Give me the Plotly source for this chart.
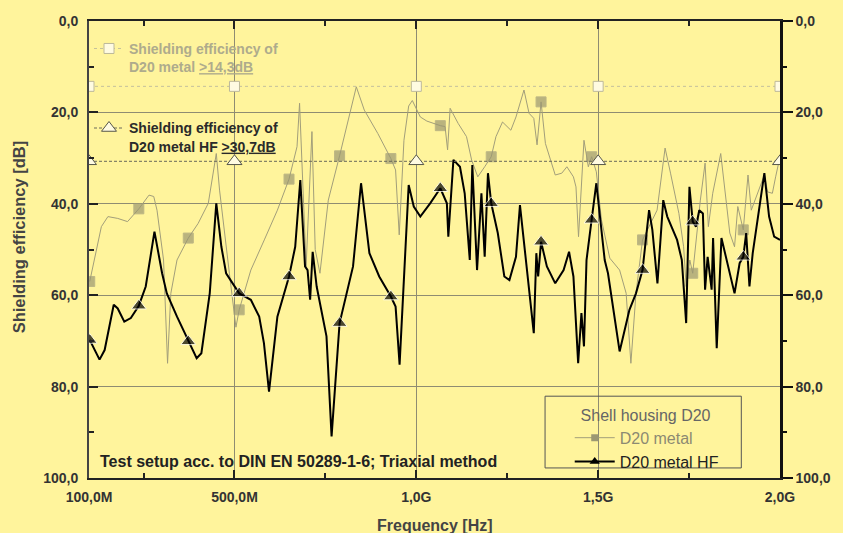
import plotly.graph_objects as go

# frequency in MHz, shielding efficiency in dB
freq_metal = [102, 115, 134, 152, 179, 206, 237, 265, 278, 287, 305, 316, 325, 342, 373, 400, 428, 450,
              459, 486, 504, 513, 545, 582, 618, 650, 672, 679, 688, 697, 713, 722, 735, 758, 789, 808,
              835, 857, 894, 930, 943, 953, 966, 979, 989, 1011, 1029, 1066, 1079, 1086, 1093, 1115,
              1138, 1152, 1169, 1188, 1206, 1219, 1237, 1260, 1274, 1296, 1310, 1323, 1332, 1343, 1355,
              1369, 1382, 1400, 1414, 1432, 1439, 1446, 1461, 1473, 1482, 1495, 1509, 1532, 1559, 1577,
              1590, 1604, 1622, 1662, 1684, 1699, 1722, 1735, 1742, 1752, 1760, 1781, 1794, 1803, 1815,
              1837, 1862, 1875, 1884, 1899, 1912, 1921, 1957, 1966, 1979, 1988, 2000]
se_metal = [57.0, 52.3, 45.0, 42.8, 43.2, 43.9, 41.1, 38.1, 38.4, 41.4, 52.3, 74.9, 59.6, 52.3, 47.5, 44.3,
            39.9, 29.0, 37.0, 55.2, 67.0, 63.2, 54.5, 47.9, 41.4, 34.6, 27.5, 18.0, 34.1, 53.7, 24.2, 50.0,
            55.2, 39.2, 29.5, 23.1, 14.4, 19.5, 24.6, 30.1, 32.6, 46.8, 26.1, 18.6, 17.4, 21.0, 21.9, 22.9,
            23.1, 28.2, 19.1, 22.4, 25.3, 30.4, 34.1, 31.9, 29.7, 25.3, 22.1, 23.9, 21.0, 15.1, 20.2, 21.3,
            27.1, 17.7, 26.8, 30.4, 33.7, 33.3, 31.9, 34.1, 36.3, 47.2, 26.1, 31.9, 29.7, 33.0, 43.5, 51.9,
            54.5, 59.6, 74.9, 59.6, 47.9, 41.4, 27.8, 33.3, 42.1, 49.4, 58.1, 52.3, 55.2, 39.2, 31.1, 45.0,
            37.7, 29.0, 46.4, 49.4, 40.6, 45.7, 33.7, 41.4, 33.7, 37.4, 37.7, 34.1, 29.7]

freq_hf = [102, 129, 143, 168, 179, 197, 215, 237, 256, 280, 301, 314, 342, 373, 396, 409, 432, 450, 464,
           477, 513, 545, 568, 581, 595, 618, 650, 667, 681, 694, 701, 708, 715, 726, 753, 767, 789, 826,
           848, 871, 898, 930, 943, 954, 966, 979, 993, 1011, 1038, 1066, 1084, 1088, 1102, 1120, 1133,
           1147, 1154, 1167, 1179, 1188, 1197, 1206, 1224, 1242, 1256, 1274, 1285, 1301, 1323, 1330, 1335,
           1343, 1359, 1382, 1405, 1420, 1432, 1445, 1454, 1461, 1468, 1482, 1495, 1518, 1527, 1559, 1586,
           1604, 1622, 1640, 1649, 1663, 1679, 1690, 1717, 1730, 1742, 1751, 1760, 1769, 1778, 1788, 1794,
           1801, 1812, 1816, 1826, 1839, 1853, 1875, 1889, 1899, 1907, 1916, 1925, 1957, 1970, 1984, 2000]
se_hf = [69.8, 74.1, 72.0, 62.1, 62.9, 65.8, 65.0, 62.3, 58.1, 46.1, 55.2, 59.6, 64.7, 70.1, 73.8, 72.7,
         59.6, 39.9, 49.4, 55.2, 59.6, 61.0, 64.7, 70.5, 81.1, 64.7, 55.9, 49.4, 34.8, 53.7, 54.5, 61.0,
         50.5, 58.1, 69.0, 90.9, 66.1, 53.7, 35.5, 50.8, 55.9, 60.3, 62.5, 75.2, 55.9, 35.9, 40.6, 42.8,
         39.9, 36.6, 39.9, 47.2, 30.4, 31.9, 37.7, 52.3, 31.5, 54.5, 37.7, 51.6, 33.3, 39.9, 46.4, 55.9,
         56.7, 51.6, 40.3, 52.3, 68.3, 50.8, 55.9, 48.3, 53.7, 57.4, 54.5, 50.5, 55.9, 74.9, 63.9, 71.2,
         52.3, 43.5, 35.5, 52.3, 55.2, 72.3, 63.2, 59.6, 54.5, 41.4, 45.7, 57.4, 39.2, 42.8, 47.9, 52.3,
         66.1, 36.3, 43.9, 45.0, 41.4, 42.1, 58.8, 51.6, 58.8, 47.5, 71.6, 47.5, 52.3, 59.6, 53.0, 51.6,
         46.4, 58.1, 50.8, 33.3, 42.8, 47.2, 47.9]

# points that carry a symbol
marker_freqs = [102, 237, 373, 513, 650, 789, 930, 1066, 1206, 1343, 1482, 1622, 1760, 1899]

# limit lines
ref_freqs = [100, 500, 1000, 1500, 2000]
ref_metal = 14.3
ref_hf = 30.7

x_tickvals = [100, 500, 1000, 1500, 2000]
x_ticktext = ['100,0M', '500,0M', '1,0G', '1,5G', '2,0G']
x_minor = [250, 750, 1250, 1750]
y_tickvals = [0, 20, 40, 60, 80, 100]
y_ticktext = ['0,0', '20,0', '40,0', '60,0', '80,0', '100,0']
y_minor = [10, 30, 50, 70, 90]

bg = '#fff49c'
grey_line = '#a29e7a'
grey_mark = '#9c9872'
font = 'Liberation Sans'

fig = go.Figure()

# limit lines
fig.add_trace(go.Scatter(
    x=ref_freqs, y=[ref_metal]*len(ref_freqs), mode='lines+markers',
    line=dict(color='#c4c09c', width=1, dash='3px,3px'),
    marker=dict(symbol='square', size=10, color='#fffbe2', line=dict(color='#bdb99a', width=1)),
    name='Shielding efficiency of<br>D20 metal <u>>14,3dB</u>', legend='legend2'))
fig.add_trace(go.Scatter(
    x=ref_freqs, y=[ref_hf]*len(ref_freqs), mode='lines+markers', yaxis='y2',
    line=dict(color='#6a6a5a', width=1, dash='3px,2px'),
    marker=dict(symbol='triangle-up', size=13, color='#fffbe2', line=dict(color='#555548', width=1)),
    name='Shielding efficiency of<br>D20 metal HF <u>>30,7dB</u>', legend='legend3'))

# measured curves
fig.add_trace(go.Scatter(
    x=freq_metal, y=se_metal, mode='lines+markers', showlegend=False,
    line=dict(color=grey_line, width=1),
    marker=dict(symbol='square', color=grey_mark,
                size=[10 if f in marker_freqs else 0 for f in freq_metal])))
fig.add_trace(go.Scatter(
    x=freq_hf, y=se_hf, mode='lines+markers', showlegend=False,
    line=dict(color='black', width=2),
    marker=dict(symbol='triangle-up', color='black',
                size=[13 if f in marker_freqs else 0 for f in freq_hf])))

# legend entries
fig.add_trace(go.Scatter(
    x=[None], y=[None], mode='lines+markers', name="<span style='color:#8c8a72'>D20 metal</span>",
    line=dict(color=grey_line, width=1), marker=dict(symbol='square', size=7, color=grey_mark)))
fig.add_trace(go.Scatter(
    x=[None], y=[None], mode='lines+markers', name='D20 metal HF',
    line=dict(color='black', width=2), marker=dict(symbol='triangle-up', size=9, color='black')))

tickfont = dict(family=font, size=14, color='#333', weight='bold')

fig.update_layout(
    width=843, height=533,
    margin=dict(l=89, r=54, t=21, b=55),
    paper_bgcolor=bg, plot_bgcolor=bg,
    font=dict(family=font, size=13, color='#333'),
    xaxis=dict(
        range=[100, 2000], tickmode='array', tickvals=x_tickvals, ticktext=x_ticktext,
        ticks='inside', ticklen=8, tickwidth=1.5, tickcolor='#222', tickfont=tickfont,
        ticklabelstandoff=5,
        showline=True, linecolor='#222', linewidth=2, mirror='ticks',
        showgrid=True, gridcolor='#8f8c72', gridwidth=1, zeroline=False,
        minor=dict(tickmode='array', tickvals=x_minor, ticks='inside', ticklen=5,
                   tickcolor='#222', showgrid=False),
    ),
    yaxis=dict(
        range=[100, 0], tickmode='array', tickvals=y_tickvals, ticktext=y_ticktext,
        ticks='inside', ticklen=9, tickwidth=1.5, tickcolor='#222', tickfont=tickfont,
        ticklabelstandoff=6,
        showline=True, linecolor='#444', linewidth=2,
        showgrid=True, gridcolor='#8f8c72', gridwidth=1, zeroline=False,
        minor=dict(tickmode='array', tickvals=y_minor, ticks='inside', ticklen=5,
                   tickcolor='#222', showgrid=False),
    ),
    yaxis2=dict(
        overlaying='y', side='right', matches='y', range=[100, 0],
        tickmode='array', tickvals=y_tickvals, ticktext=y_ticktext,
        ticks='outside', ticklen=10, tickwidth=1.5, tickcolor='#111', tickfont=tickfont,
        showline=True, linecolor='#111', linewidth=2.5, showgrid=False, zeroline=False,
        minor=dict(tickmode='array', tickvals=y_minor, ticks='outside', ticklen=4, tickcolor='#111'),
    ),
    legend=dict(
        x=0.6957, y=0.1707, xanchor='left', yanchor='top', itemwidth=40,
        bgcolor='rgba(0,0,0,0)', borderwidth=0,
        font=dict(family=font, size=16, color='#222'),
        title=dict(text='\u00a0\u00a0Shell housing D20', font=dict(family=font, size=16, color='#666')),
        tracegroupgap=0,
    ),
    legend2=dict(
        x=0.0, y=0.974, xanchor='left', yanchor='top', bgcolor='rgba(0,0,0,0)', valign='top',
        font=dict(family=font, size=14, color='#aeab8c', weight='bold'),
    ),
    legend3=dict(
        x=0.0, y=0.80, xanchor='left', yanchor='top', bgcolor='rgba(0,0,0,0)', valign='top',
        font=dict(family=font, size=14, color='#2a2a2a', weight='bold'),
    ),
)

# frame around the series legend
fig.add_shape(type='rect', xref='paper', yref='paper', x0=0.66, x1=0.944, y0=0.022, y1=0.179,
              line=dict(color='#555', width=1), fillcolor='rgba(0,0,0,0)', layer='above')

fig.add_annotation(x=0.013, y=0.037, xref='paper', yref='paper', xanchor='left', yanchor='middle',
                   text='Test setup acc. to DIN EN 50289-1-6; Triaxial method', showarrow=False,
                   font=dict(family=font, size=16, color='#222', weight='bold'))
fig.add_annotation(x=0.501, y=-0.103, xref='paper', yref='paper', xanchor='center', yanchor='middle',
                   text='Frequency [Hz]', showarrow=False,
                   font=dict(family=font, size=16, color='#444', weight='bold'))
fig.add_annotation(x=-0.101, y=0.527, xref='paper', yref='paper', xanchor='center', yanchor='middle',
                   text='Shielding efficiency [dB]', showarrow=False, textangle=-90,
                   font=dict(family=font, size=16.5, color='#444', weight='bold'))

fig.write_html("out.html", config={'displayModeBar': False},
               post_script="document.body.style.margin='0';document.body.style.background='%s';" % bg)
